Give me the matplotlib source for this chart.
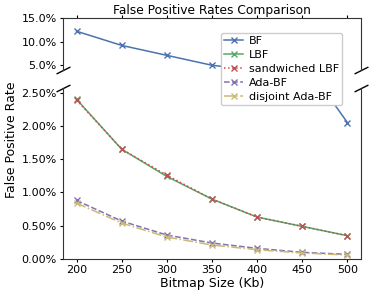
import numpy as np
import matplotlib
matplotlib.use('Agg')
import matplotlib.pyplot as plt
from matplotlib.ticker import FuncFormatter

# datos (en %)
sizes = [200, 250, 300, 350, 400, 450, 500]
bf = [12.2, 9.2, 7.1, 5.0, 3.9, 3.0, 2.05]
lbf = [2.40, 1.65, 1.24, 0.90, 0.63, 0.49, 0.35]
sand_lbf = [2.39, 1.65, 1.26, 0.90, 0.63, 0.49, 0.35]
ada_bf = [0.88, 0.57, 0.36, 0.24, 0.16, 0.10, 0.07]
dis_ada_bf = [0.84, 0.54, 0.33, 0.21, 0.14, 0.09, 0.06]

nombres = ["BF", "LBF", "sandwiched LBF", "Ada-BF", "disjoint Ada-BF"]
series = [bf, lbf, sand_lbf, ada_bf, dis_ada_bf]
colores = ["#4C72B0", "#55A868", "#C44E52", "#8172B2", "#CCB974"]
estilos = ["-", "-", ":", "--", "-."]

fig = plt.figure(figsize=(3.74, 2.95), dpi=100)
ax1 = fig.add_axes([63/374, 1-70/295, 298/374, 52/295])
ax2 = fig.add_axes([63/374, 1-259/295, 298/374, 171/295])

lineas = []
for s, n, c, ls in zip(series, nombres, colores, estilos):
    y = np.array(s)/100
    l, = ax1.plot(sizes, y, color=c, ls=ls, marker='x', ms=4.5, lw=1.1, label=n)
    ax2.plot(sizes, y, color=c, ls=ls, marker='x', ms=4.5, lw=1.1)
    lineas.append(l)

ax1.set_ylim(0.04, 0.15)
ax2.set_ylim(0, 0.0257)
ax1.set_yticks([0.05, 0.10, 0.15])
ax2.set_yticks([0, 0.005, 0.01, 0.015, 0.02, 0.025])
ax1.yaxis.set_major_formatter(FuncFormatter(lambda v, p: "%.1f%%" % (v*100)))
ax2.yaxis.set_major_formatter(FuncFormatter(lambda v, p: "%.2f%%" % (v*100)))
for ax in (ax1, ax2):
    ax.set_xlim(185, 515)
    ax.set_xticks(sizes)
    ax.tick_params(labelsize=8, length=2.5, pad=2)
    for sp in ax.spines.values():
        sp.set_color('#333333')

ax1.spines['bottom'].set_visible(False)
ax2.spines['top'].set_visible(False)
ax1.xaxis.tick_top()
ax1.tick_params(labeltop=False)
ax2.xaxis.tick_bottom()

# marcas de corte
d = 0.5
kw = dict(marker=[(-1, -d), (1, d)], markersize=10, linestyle="none",
          color='k', mec='k', mew=1, clip_on=False)
ax1.plot([0, 1], [0, 0], transform=ax1.transAxes, **kw)
ax2.plot([0, 1], [1, 1], transform=ax2.transAxes, **kw)

ax1.set_title("False Positive Rates Comparison", fontsize=8.8, pad=3)
ax2.set_xlabel("Bitmap Size (Kb)", fontsize=9, labelpad=1)
fig.text(12/374, 1-140/295, "False Positive Rate", rotation=90, fontsize=9,
         va='center', ha='center')

fig.legend(handles=lineas, loc='upper left', bbox_to_anchor=(221/374, 1-33/295),
           fontsize=8, handlelength=1.7, borderpad=0.3, labelspacing=0.35,
           handletextpad=0.5, borderaxespad=0, framealpha=1)

plt.savefig("out.png", dpi=100)
